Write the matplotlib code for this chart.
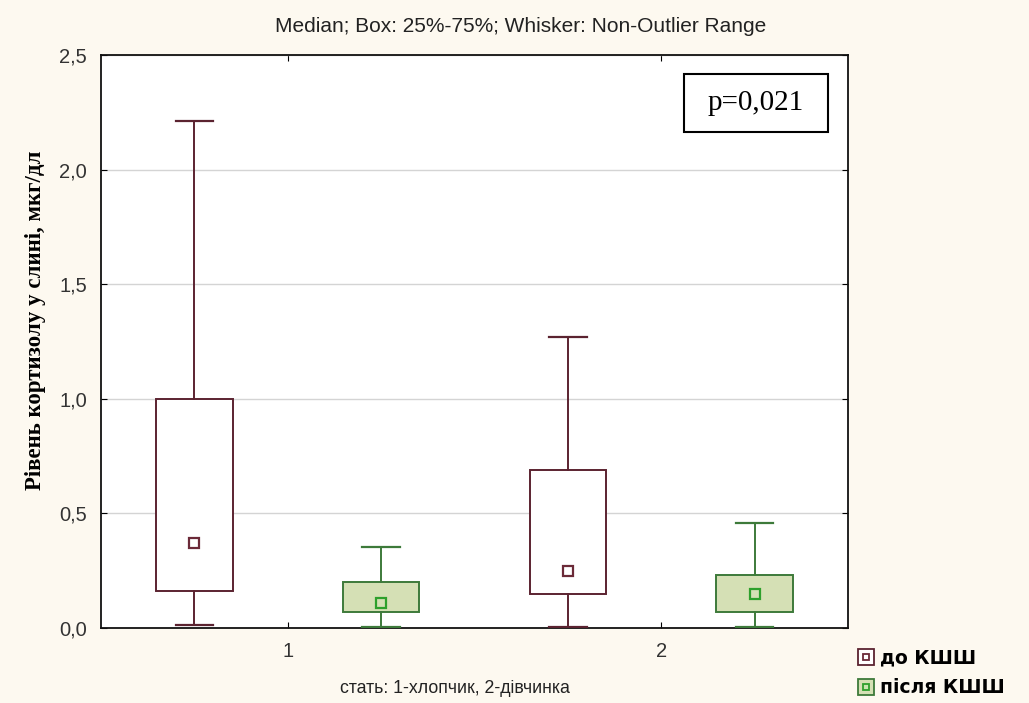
import matplotlib
matplotlib.use('Agg')
import matplotlib.pyplot as plt
from matplotlib.lines import Line2D
from matplotlib.patches import Rectangle
from matplotlib.legend_handler import HandlerTuple

# Дані
groups = ['1', '2']
series = ['до КШШ', 'після КШШ']
medians = {'до КШШ': [0.37, 0.25], 'після КШШ': [0.11, 0.15]}
q1 = {'до КШШ': [0.16, 0.15], 'після КШШ': [0.07, 0.07]}
q3 = {'до КШШ': [1.00, 0.69], 'після КШШ': [0.20, 0.23]}
wlo = {'до КШШ': [0.015, 0.005], 'після КШШ': [0.005, 0.005]}
whi = {'до КШШ': [2.21, 1.27], 'після КШШ': [0.355, 0.46]}
yticks = [0.0, 0.5, 1.0, 1.5, 2.0, 2.5]
ytick_labels = ['0,0', '0,5', '1,0', '1,5', '2,0', '2,5']

line_col = {'до КШШ': '#5b2330', 'після КШШ': '#3d7a3a'}
fill_col = {'до КШШ': 'white', 'після КШШ': '#d5e0b5'}
mark_col = {'до КШШ': '#6b2a38', 'після КШШ': '#2ea02c'}
offsets = {'до КШШ': -0.25, 'після КШШ': 0.25}

bg = '#fdf9f0'
fig = plt.figure(figsize=(10.29, 7.03), dpi=100, facecolor=bg)
ax = fig.add_axes([0.0982, 0.1067, 0.7259, 0.8151])
ax.set_facecolor('white')

for s in series:
    stats = []
    for i in range(len(groups)):
        stats.append({'med': medians[s][i], 'q1': q1[s][i], 'q3': q3[s][i],
                      'whislo': wlo[s][i], 'whishi': whi[s][i], 'fliers': []})
    pos = [i + 1 + offsets[s] for i in range(len(groups))]
    c = line_col[s]
    ax.bxp(stats, positions=pos, widths=0.205, patch_artist=True, showfliers=False,
           boxprops=dict(facecolor=fill_col[s], edgecolor=c, linewidth=1.4),
           whiskerprops=dict(color=c, linewidth=1.4),
           capprops=dict(color=c, linewidth=1.6),
           medianprops=dict(linestyle='none'),
           capwidths=0.1, zorder=3)
    ax.plot(pos, medians[s], linestyle='none', marker='s', markersize=7,
            markerfacecolor=fill_col[s], markeredgecolor=mark_col[s],
            markeredgewidth=1.6, zorder=4)

ax.set_xlim(0.5, 2.5)
ax.set_ylim(0, 2.5)
ax.set_yticks(yticks)
ax.set_yticklabels(ytick_labels, fontsize=14.5, family='Liberation Sans', color='#333333')
ax.set_xticks([1, 2])
ax.set_xticklabels(groups, fontsize=14.5, family='Liberation Sans', color='#333333')
ax.tick_params(direction='in', top=True, right=True, length=4)
ax.tick_params(axis='y', pad=10)
ax.tick_params(axis='x', pad=10)
ax.yaxis.grid(True, color='#d4d4d4', linewidth=1)
ax.set_axisbelow(True)
for sp in ax.spines.values():
    sp.set_linewidth(1.3)
    sp.set_color('#111111')

ax.set_ylabel('Рівень кортизолу у слині, мкг/дл', fontsize=16.5, fontweight='bold',
              family='Liberation Serif')
ax.yaxis.set_label_coords(-0.074, 0.537)

fig.text(0.506, 0.962, 'Median; Box: 25%-75%; Whisker: Non-Outlier Range',
         ha='center', va='center', fontsize=15, family='Liberation Sans', color='#222222')
fig.text(0.442, 0.021, 'стать: 1-хлопчик, 2-дівчинка', ha='center', va='center',
         fontsize=12.8, family='Liberation Sans', color='#222222')

# рамка з p-значенням
ax.add_patch(Rectangle((0.780, 0.866), 0.193, 0.101, transform=ax.transAxes,
                       facecolor='white', edgecolor='black', linewidth=1.5, zorder=5))
ax.text(0.877, 0.917, 'p=0,021', transform=ax.transAxes, ha='center', va='center',
        fontsize=21, family='Liberation Serif', zorder=6)

handles = []
for s in series:
    outer = Line2D([], [], linestyle='none', marker='s', markersize=11,
                   markerfacecolor=fill_col[s] if s == 'після КШШ' else 'white',
                   markeredgecolor=line_col[s], markeredgewidth=1.3)
    inner = Line2D([], [], linestyle='none', marker='s', markersize=5,
                   markerfacecolor='white' if s == 'до КШШ' else '#c8e6b0',
                   markeredgecolor=mark_col[s], markeredgewidth=1.3)
    handles.append((outer, inner))
fig.legend(handles, series, handler_map={tuple: HandlerTuple(ndivide=1)},
           loc='lower left', bbox_to_anchor=(0.813, -0.021), frameon=False,
           prop={'family': 'DejaVu Sans', 'weight': 'bold', 'size': 13.5},
           handlelength=0.9, handletextpad=0.3, labelspacing=0.57, borderpad=0.6)

fig.savefig('out.png', dpi=100, facecolor=bg)
